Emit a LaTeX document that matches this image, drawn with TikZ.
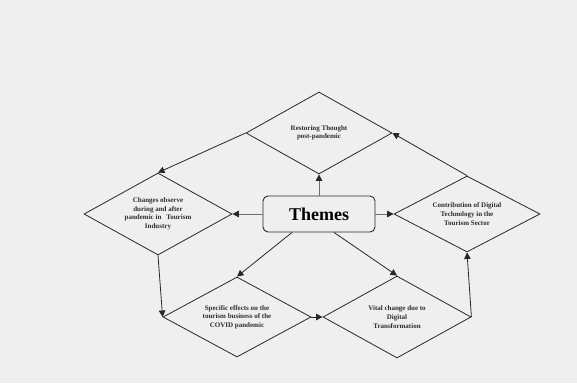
\documentclass[tikz,border=0pt]{standalone}
\usepackage{fontspec}
\setmainfont{Liberation Serif}
\usetikzlibrary{shapes.geometric,arrows.meta}
\definecolor{bg}{RGB}{239,239,239}
\definecolor{ink}{RGB}{40,40,40}
\definecolor{soft}{RGB}{110,110,110}
\definecolor{txt}{RGB}{45,45,45}
\tikzset{
  themebox/.style={draw=ink, line width=0.9pt, rounded corners=5pt, fill=bg,
    minimum width=112pt, minimum height=36pt, inner sep=0pt,
    font=\fontsize{18}{20}\selectfont\bfseries, text=black},
  stage/.style={draw=ink, line width=0.8pt, shape=diamond, aspect=1.8,
    minimum width=148pt, minimum height=82pt, inner sep=0pt, align=center,
    font=\fontsize{7}{8.6}\selectfont\bfseries, text=txt},
  arr/.style={draw=ink, line width=0.8pt, -{Triangle[length=6.5pt,width=6.5pt,color=ink]}},
  hub/.style={arr, draw=soft, line width=1pt}
}
\begin{document}
\begin{tikzpicture}[x=1pt,y=-1pt]
  \fill[bg] (0,0) rectangle (577,383);
  \useasboundingbox (0,0) rectangle (577,383);

  % central theme
  \node[themebox] (themes) at (319,214) {Themes};

  % surrounding stages
  \node[stage, minimum width=146pt] (rest) at (319,133) {Restoring Thought\\post-pandemic};
  \node[stage] (chg) at (158,214) {Changes observe\\during and after\\pandemic in\hspace{0.7em}Tourism\\Industry};
  \node[stage, minimum width=146pt, minimum height=76pt] (contrib) at (467,214) {Contribution of Digital\\Technology in the\\Tourism Sector};
  \node[stage, minimum height=80pt] (spec) at (237,317) {Specific effects on the\\tourism business of the\\COVID pandemic};
  \node[stage] (vital) at (397,317) {Vital change due to\\Digital\\Transformation};

  % links from the theme box
  \draw[hub] (themes.north) -- (rest.south);
  \draw[hub] (themes.west) -- (chg.east);
  \draw[hub] (themes.east) -- (contrib.west);
  \draw[arr] ([xshift=-27pt]themes.south) -- (spec.north);
  \draw[arr] ([xshift=15pt]themes.south) -- (vital.north);

  % cycle around the stages
  \draw[arr] (rest.west) -- (chg.north);
  \draw[arr] (chg.south) -- (spec.west);
  \draw[arr] (spec.east) -- (vital.west);
  \draw[arr] (vital.east) -- (contrib.south);
  \draw[arr] (contrib.north) -- (rest.east);
\end{tikzpicture}
\end{document}
